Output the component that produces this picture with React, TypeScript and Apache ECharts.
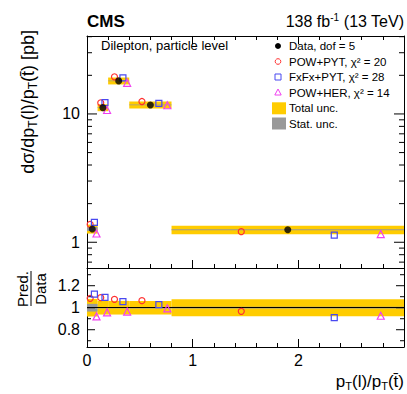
import React, { useEffect, useRef } from "react";
import * as echarts from "echarts";

// ---------- data ----------
const binEdges = [0, 0.1, 0.2, 0.4, 0.8, 3];
const dataValues = [1.27, 11.2, 18.1, 11.75, 1.25];
const totalUnc = [0.08, 0.062, 0.062, 0.062, 0.078]; // relative
const statUnc = [0.035, 0.006, 0.006, 0.006, 0.008]; // relative
const powPytValues = [1.378, 12.22, 19.48, 12.5, 1.209];
const fxfxPytValues = [1.427, 12.26, 19.1, 12.07, 1.138];
const powHerValues = [1.17, 10.73, 17.47, 11.69, 1.159];
const xTickLabels = ["0", "1", "2"];
const yTickLabels = ["1", "10"];
const ratioTickLabels = ["0.8", "1", "1.2"];
const yMinorTicks = [0.7, 0.8, 0.9, 2, 3, 4, 5, 6, 7, 8, 9, 20, 30, 40];
const ratioMinorTicks = [0.7, 0.9, 1.1, 1.3];
const legendLabels = [
  "Data, dof = 5",
  "POW+PYT, χ² = 20",
  "FxFx+PYT, χ² = 28",
  "POW+HER, χ² = 14",
  "Total unc.",
  "Stat. unc.",
];

// ---------- style ----------
const FONT = "Liberation Sans, Arial, Helvetica, sans-serif";
const YELLOW = "#FFCC00";
const GREY = "#999999";
const RED = "#FF3030";
const BLUE = "#4848F0";
const MAGENTA = "#F040F0";
const OFF_PYT = 0.3;
const OFF_DATA = 0.5;
const OFF_FXFX = 0.7;
const OFF_HER = 0.9;

const GL = 87;
const GW = 317;

export default function App() {
  const ref = useRef<HTMLDivElement>(null);
  useEffect(() => {
    const chart = echarts.init(ref.current!, null, { renderer: "svg" });
    const nb = dataValues.length;
    const lo = (i: number) => binEdges[i];
    const hi = (i: number) => binEdges[i + 1];
    const at = (i: number, f: number) => lo(i) + f * (hi(i) - lo(i));

    const topTotal = dataValues.map((v, i) => [lo(i), hi(i), v * (1 - totalUnc[i]), v * (1 + totalUnc[i])]);
    const topStat = dataValues.map((v, i) => [lo(i), hi(i), v * (1 - statUnc[i]), v * (1 + statUnc[i])]);
    const ratTotal = dataValues.map((_, i) => [lo(i), hi(i), 1 - totalUnc[i], 1 + totalUnc[i]]);
    const ratStat = dataValues.map((_, i) => [lo(i), hi(i), 1 - statUnc[i], 1 + statUnc[i]]);

    const bandItem = (color: string) => (params: any, api: any) => {
      const a = api.coord([api.value(0), api.value(3)]);
      const b = api.coord([api.value(1), api.value(2)]);
      return {
        type: "rect",
        shape: { x: a[0], y: a[1], width: b[0] - a[0], height: b[1] - a[1] },
        style: { fill: color },
      };
    };
    const tickItem = (params: any, api: any) => {
      const cs = params.coordSys;
      const p = api.coord([0, api.value(1)]);
      const len = api.value(2);
      return {
        type: "group",
        children: [
          { type: "line", shape: { x1: cs.x, y1: p[1], x2: cs.x + len, y2: p[1] }, style: { stroke: "#000", lineWidth: 1 } },
          { type: "line", shape: { x1: cs.x + cs.width - len, y1: p[1], x2: cs.x + cs.width, y2: p[1] }, style: { stroke: "#000", lineWidth: 1 } },
        ],
      };
    };

    const xBase = (grid: number, pos: string, labels: boolean) => ({
      type: "value",
      gridIndex: grid,
      position: pos,
      min: 0,
      max: 3,
      interval: 1,
      axisLine: { show: true, onZero: false, lineStyle: { color: "#000", width: 1 } },
      axisTick: { show: true, inside: true, length: 8, lineStyle: { color: "#000" } },
      minorTick: { show: true, splitNumber: 5, length: 4, lineStyle: { color: "#000" } },
      splitLine: { show: false },
      minorSplitLine: { show: false },
      axisLabel: {
        show: labels,
        fontSize: 16,
        fontFamily: FONT,
        color: "#000",
        margin: 5,
        formatter: (v: number) => {
          const s = String(Math.round(v * 1000) / 1000);
          return xTickLabels.includes(s) ? s : "";
        },
      },
    });

    const logFmt = (v: number) => {
      const l = Math.log10(v);
      const r = Math.round(l);
      if (Math.abs(l - r) > 1e-6) return "";
      const s = String(Math.round(Math.pow(10, r)));
      return yTickLabels.includes(s) ? s : "";
    };
    const ratioFmt = (v: number) => {
      const s = String(Math.round(v * 1000) / 1000);
      return ratioTickLabels.includes(s) ? s : "";
    };

    const yTop = (pos: string, labels: boolean) => ({
      type: "log",
      logBase: 10,
      gridIndex: 0,
      position: pos,
      min: 0.63,
      max: 40.5,
      axisLine: { show: true, onZero: false, lineStyle: { color: "#000", width: 1 } },
      axisTick: { show: false },
      minorTick: { show: false },
      splitLine: { show: false },
      axisLabel: { show: labels, fontSize: 16, fontFamily: FONT, color: "#000", margin: 7, formatter: logFmt },
    });
    const yRatio = (pos: string, labels: boolean) => ({
      type: "value",
      gridIndex: 1,
      position: pos,
      min: 0.643,
      max: 1.361,
      splitNumber: 3,
      axisLine: { show: true, onZero: false, lineStyle: { color: "#000", width: 1 } },
      axisTick: { show: false },
      minorTick: { show: false },
      splitLine: { show: false },
      axisLabel: { show: labels, fontSize: 16, fontFamily: FONT, color: "#000", margin: 7, formatter: ratioFmt },
    });

    const predSeries = (
      name: string,
      vals: number[],
      off: number,
      symbol: string,
      size: number,
      color: string,
      xi: number,
      yi: number,
      ratio: boolean
    ) => ({
      type: "scatter",
      name,
      xAxisIndex: xi,
      yAxisIndex: yi,
      symbol,
      symbolSize: size,
      itemStyle: { color: "rgba(0,0,0,0)", borderColor: color, borderWidth: 1.2, opacity: 1 },
      z: 5,
      data: vals.map((v, i) => [at(i, off), ratio ? v / dataValues[i] : v]),
    });

    const ticksTop = [
      ...yTickLabels.map((s) => [0, parseFloat(s), 10]),
      ...yMinorTicks.map((v) => [0, v, 5]),
    ];
    const ticksRatio = [
      ...ratioTickLabels.map((s) => [0, parseFloat(s), 8]),
      ...ratioMinorTicks.map((v) => [0, v, 4]),
    ];

    const rowY = [46, 61.5, 77, 92.5, 108.3, 123.5];
    const LX = 278;
    const TX = 289;
    const legendGraphics: any[] = [
      { type: "circle", shape: { cx: LX, cy: rowY[0], r: 3 }, style: { fill: "#000" } },
      { type: "circle", shape: { cx: LX, cy: rowY[1], r: 2.8 }, style: { fill: "none", stroke: RED, lineWidth: 1 } },
      { type: "rect", shape: { x: LX - 3, y: rowY[2] - 3, width: 6, height: 6 }, style: { fill: "none", stroke: BLUE, lineWidth: 1 } },
      {
        type: "polygon",
        shape: { points: [[LX, rowY[3] - 3.5], [LX + 3.2, rowY[3] + 2.5], [LX - 3.2, rowY[3] + 2.5]] },
        style: { fill: "none", stroke: MAGENTA, lineWidth: 1 },
      },
      { type: "rect", shape: { x: 272, y: rowY[4] - 6, width: 14, height: 12 }, style: { fill: YELLOW } },
      { type: "rect", shape: { x: 272, y: rowY[5] - 6, width: 14, height: 12 }, style: { fill: GREY } },
      ...legendLabels.map((t, i) => ({
        type: "text",
        x: TX,
        y: rowY[i],
        style: { text: t, font: `11.5px ${FONT}`, fill: "#000", align: "left", verticalAlign: "middle" },
      })),
    ];

    const option: any = {
      animation: false,
      backgroundColor: "#fff",
      grid: [
        { left: GL, top: 36, width: GW, height: 232, containLabel: false, outerBoundsMode: "none" },
        { left: GL, top: 268, width: GW, height: 79, containLabel: false, outerBoundsMode: "none" },
      ],
      xAxis: [xBase(0, "bottom", false), xBase(0, "top", false), xBase(1, "bottom", true)],
      yAxis: [yTop("left", true), yTop("right", false), yRatio("left", true), yRatio("right", false)],
      series: [
        { type: "custom", name: "Total unc.", xAxisIndex: 0, yAxisIndex: 0, renderItem: bandItem(YELLOW), encode: { x: [0, 1], y: [2, 3] }, data: topTotal, z: 1 },
        { type: "custom", name: "Stat. unc.", xAxisIndex: 0, yAxisIndex: 0, renderItem: bandItem(GREY), encode: { x: [0, 1], y: [2, 3] }, data: topStat, z: 2 },
        { type: "custom", name: "ticksTop", xAxisIndex: 0, yAxisIndex: 0, renderItem: tickItem, encode: { x: 0, y: 1 }, data: ticksTop, z: 3, silent: true },
        {
          type: "custom", name: "Total unc. ratio", xAxisIndex: 2, yAxisIndex: 2, renderItem: bandItem(YELLOW), encode: { x: [0, 1], y: [2, 3] }, data: ratTotal, z: 1,
          markLine: { silent: true, symbol: "none", label: { show: false }, lineStyle: { color: "#000", width: 1, type: "solid" }, data: [{ yAxis: 1 }], z: 4 },
        },
        { type: "custom", name: "Stat. unc. ratio", xAxisIndex: 2, yAxisIndex: 2, renderItem: bandItem(GREY), encode: { x: [0, 1], y: [2, 3] }, data: ratStat, z: 2 },
        { type: "custom", name: "ticksRatio", xAxisIndex: 2, yAxisIndex: 2, renderItem: tickItem, encode: { x: 0, y: 1 }, data: ticksRatio, z: 3, silent: true },
        predSeries("POW+PYT", powPytValues, OFF_PYT, "circle", 6, RED, 0, 0, false),
        predSeries("FxFx+PYT", fxfxPytValues, OFF_FXFX, "rect", 6, BLUE, 0, 0, false),
        predSeries("POW+HER", powHerValues, OFF_HER, "triangle", 7, MAGENTA, 0, 0, false),
        {
          type: "scatter", name: "Data", xAxisIndex: 0, yAxisIndex: 0, symbol: "circle", symbolSize: 7,
          itemStyle: { color: "#000" }, z: 6,
          data: dataValues.map((v, i) => [at(i, OFF_DATA), v]),
        },
        predSeries("POW+PYT ratio", powPytValues, OFF_PYT, "circle", 6, RED, 2, 2, true),
        predSeries("FxFx+PYT ratio", fxfxPytValues, OFF_FXFX, "rect", 6, BLUE, 2, 2, true),
        predSeries("POW+HER ratio", powHerValues, OFF_HER, "triangle", 7, MAGENTA, 2, 2, true),
      ],
      graphic: [
        { type: "text", x: 87, y: 21, style: { text: "CMS", font: `bold 17px ${FONT}`, fill: "#000", align: "left", verticalAlign: "middle" } },
        {
          type: "text", x: 404, y: 21,
          style: {
            text: "{m|138 fb}{u|-1}{m| (13 TeV)}", align: "right", verticalAlign: "middle", fill: "#000",
            rich: {
              m: { fontSize: 16, fontFamily: FONT, lineHeight: 18, verticalAlign: "middle" },
              u: { fontSize: 10, fontFamily: FONT, lineHeight: 10, verticalAlign: "top" },
            },
          },
        },
        { type: "text", x: 101, y: 45, style: { text: "Dilepton, particle level", font: `13px ${FONT}`, fill: "#000", align: "left", verticalAlign: "middle" } },
        ...legendGraphics,
        {
          type: "text", x: 28, y: 30, rotation: Math.PI / 2,
          style: {
            text: "{m|dσ/dp}{s|T}{m|(l)/p}{s|T}{m|(t\u0304) [pb]}", align: "right", verticalAlign: "middle", fill: "#000",
            rich: {
              m: { fontSize: 18, fontFamily: FONT, lineHeight: 22, verticalAlign: "middle" },
              s: { fontSize: 12, fontFamily: FONT, lineHeight: 12, verticalAlign: "bottom" },
            },
          },
        },
        { type: "text", x: 22, y: 289, rotation: Math.PI / 2, style: { text: "Pred.", font: `15px ${FONT}`, fill: "#000", align: "center", verticalAlign: "middle" } },
        { type: "line", shape: { x1: 31, y1: 271, x2: 31, y2: 306 }, style: { stroke: "#000", lineWidth: 1 } },
        { type: "text", x: 40, y: 289, rotation: Math.PI / 2, style: { text: "Data", font: `15px ${FONT}`, fill: "#000", align: "center", verticalAlign: "middle" } },
        {
          type: "text", x: 404, y: 381,
          style: {
            text: "{m|p}{s|T}{m|(l)/p}{s|T}{m|(t\u0304)}", align: "right", verticalAlign: "middle", fill: "#000",
            rich: {
              m: { fontSize: 17, fontFamily: FONT, lineHeight: 20, verticalAlign: "middle" },
              s: { fontSize: 11, fontFamily: FONT, lineHeight: 11, verticalAlign: "bottom" },
            },
          },
        },
      ],
    };
    chart.setOption(option);
    return () => chart.dispose();
  }, []);
  return <div ref={ref} style={{ position: "fixed", left: 0, top: 0, width: 407, height: 394 }} />;
}
